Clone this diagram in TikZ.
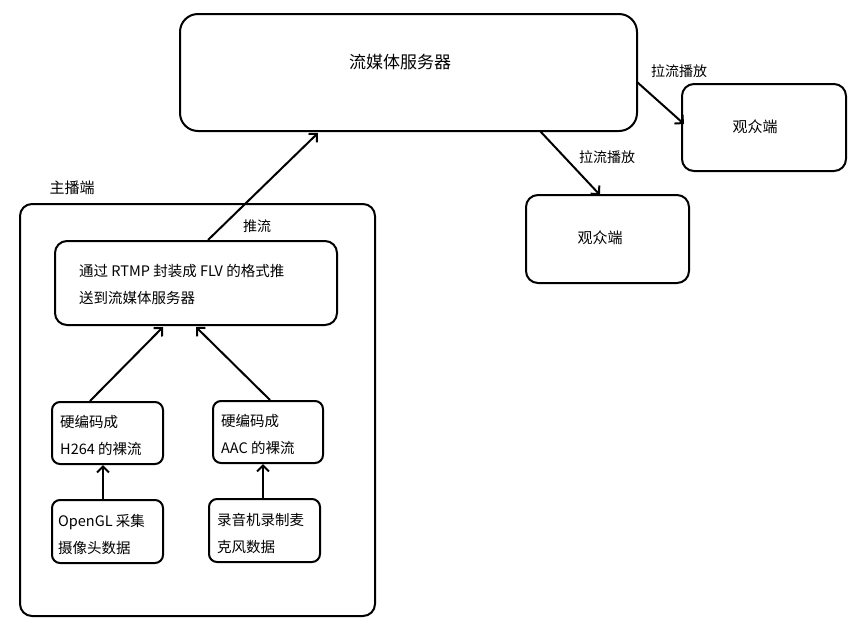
\documentclass[tikz,border=0pt]{standalone}
\usetikzlibrary{arrows.meta}
\usepackage{fontspec}
\setmainfont{Noto Sans CJK SC}
\begin{document}
\begin{tikzpicture}[x=1pt,y=-1pt,
 box/.style={draw,line width=2pt,rounded corners=12pt},
 arr/.style={line width=2pt,-{Straight Barb[length=6pt,width=12pt]}},
 t/.style={font=\fontsize{15}{18}\selectfont,inner sep=0pt},
 tt/.style={inner sep=0pt,anchor=west,align=left,font=\fontsize{14.5}{27}\selectfont},
 lbl/.style={font=\fontsize{14}{16}\selectfont,inner sep=0pt}]
\useasboundingbox (0,0) rectangle (857,630);
\draw[box,rounded corners=18pt] (180,14) rectangle (637,131);
\node[t,font=\fontsize{17}{20}\selectfont] (srv) at (400,62) {流媒体服务器};
\coordinate (srvb) at (318,133);
\draw[box] (682,84) rectangle (846,171);
\node[t] (v1) at (755,127) {观众端};
\draw[box] (526,195) rectangle (689,283);
\node[t] (v2) at (600,238) {观众端};
\draw[box] (20,204) rectangle (375,616);
\node[t] (zb) at (72,188) {主播端};
\draw[box] (55,241) rectangle (337,325);
\node[tt] (rt) at (79,284) {通过 RTMP 封装成 FLV 的格式推\\送到流媒体服务器};
\draw[box,rounded corners=8pt] (52,402) rectangle (163,464);
\node[tt] (h) at (60,435) {硬编码成\\H264 的裸流};
\draw[box,rounded corners=8pt] (213,401) rectangle (323,463);
\node[tt] (a) at (221,434) {硬编码成\\AAC 的裸流};
\draw[box,rounded corners=8pt] (52,500) rectangle (163,563);
\node[tt] (o) at (58,534) {OpenGL 采集\\摄像头数据};
\draw[box,rounded corners=8pt] (209,499) rectangle (320,562);
\node[tt] (r) at (217,533) {录音机录制麦\\克风数据};
\coordinate (p0) at (208,240);
\draw[arr] (p0) -- (srvb);
\node[lbl] (tl) at (257,226) {推流};
\coordinate (s1) at (637,82); \coordinate (e1) at (684,124);
\draw[arr] (s1) -- (e1);
\node[lbl] (l1) at (679,71) {拉流播放};
\coordinate (s2) at (540,131); \coordinate (e2) at (600,195);
\draw[arr] (s2) -- (e2);
\node[lbl] (l2) at (607,157) {拉流播放};
\coordinate (h1) at (90,401); \coordinate (h2) at (163,327);
\draw[arr] (h1) -- (h2);
\coordinate (a1) at (270,400); \coordinate (a2) at (196,327);
\draw[arr] (a1) -- (a2);
\coordinate (o1) at (103,500); \coordinate (o2) at (103,465);
\draw[arr] (o1) -- (o2);
\coordinate (r1) at (263,499); \coordinate (r2) at (263,464);
\draw[arr] (r1) -- (r2);
\end{tikzpicture}
\end{document}
